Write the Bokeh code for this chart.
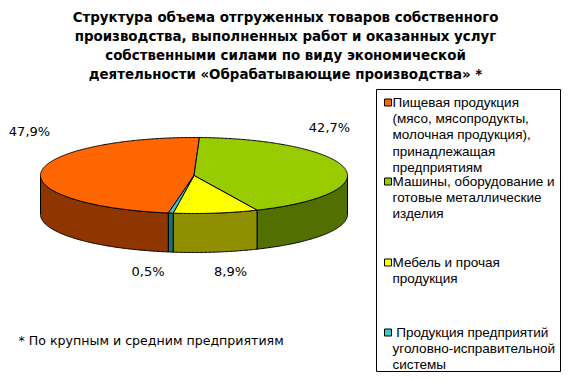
import numpy as np
from bokeh.plotting import figure
from bokeh.models import Range1d, ColumnDataSource
from bokeh.core.properties import value
from bokeh.embed import file_html
from bokeh.resources import INLINE

# ---------------- data ----------------
title_lines = [
    "Структура объема отгруженных товаров собственного",
    "производства, выполненных работ и оказанных услуг",
    "собственными силами по виду экономической",
    "деятельности «Обрабатывающие производства» *",
]
categories = [
    ["Пищевая продукция", "(мясо, мясопродукты,", "молочная продукция),", "принадлежащая", "предприятиям"],
    ["Машины, оборудование и", "готовые металлические", "изделия"],
    ["Мебель и прочая", "продукция"],
    ["\u00a0Продукция предприятий", "уголовно-исправительной", "системы"],
]
shares = [47.9, 42.7, 8.9, 0.5]
top_colors = ["#FF6600", "#99CC00", "#FFFF00", "#33CCCC"]
side_colors = ["#8F3500", "#527000", "#8F8F00", "#1C7373"]
footnote = "* По крупным и средним предприятиям"

# ---------------- layout ----------------
W, H = 561, 372
CX, CY, RX, RY, DEPTH = 193.5, 175.0, 153.5, 38.0, 39.0
START = 189.6
FONT = "DejaVu Sans"
LFONT = "Liberation Sans"

p = figure(width=W, height=H, x_range=Range1d(0, W), y_range=Range1d(H, 0),
           output_backend="svg", toolbar_location=None, min_border=0)
p.axis.visible = False
p.grid.visible = False
p.outline_line_color = None
p.background_fill_color = "white"


def arc(a0, a1):
    n = max(2, int(abs(a1 - a0) * 2) + 2)
    t = np.radians(np.linspace(a0, a1, n))
    return CX + RX * np.sin(t), CY - RY * np.cos(t)


total = sum(shares)
bounds = []
acc = START
for v in shares:
    a1 = acc + 360.0 * v / total
    bounds.append((acc, a1))
    acc = a1

# side walls (front half: 90..270 deg clockwise from 12 o'clock)
wx, wy, wc = [], [], []
for (a0, a1), col in zip(bounds, side_colors):
    for k in range(-1, 3):
        lo, hi = max(a0, 90 + 360 * k), min(a1, 270 + 360 * k)
        if hi > lo:
            xs, ys = arc(lo, hi)
            wx.append(list(xs) + list(xs[::-1]))
            wy.append(list(ys) + list(ys[::-1] + DEPTH))
            wc.append(col)
p.patches(xs="xs", ys="ys", fill_color="c", line_color="black", line_width=1,
          source=ColumnDataSource(dict(xs=wx, ys=wy, c=wc)))

# top faces
tx, ty = [], []
for (a0, a1) in bounds:
    xs, ys = arc(a0, a1)
    tx.append([CX] + list(xs))
    ty.append([CY] + list(ys))
p.patches(xs="xs", ys="ys", fill_color="c", line_color="black", line_width=1,
          source=ColumnDataSource(dict(xs=tx, ys=ty, c=top_colors)))

# percentage labels
label_text = [f"{v:.1f}%".replace(".", ",") for v in shares]
label_x = [29, 329, 230, 147.5]
label_y = [131, 127, 271, 271]
p.text(x=label_x, y=label_y, text=label_text, text_font=value(FONT), text_font_size="13px",
       text_align="center", text_baseline="middle", text_color="black")

# title
p.text(x=[285] * 4, y=[17, 36, 55, 74], text=title_lines, text_font=value(FONT),
       text_font_size="13.4px", text_font_style="bold", text_align="center",
       text_baseline="middle", text_color="black")

# footnote
p.text(x=[18], y=[340], text=[footnote], text_font=value(FONT), text_font_size="12.6px",
       text_align="left", text_baseline="middle", text_color="black")

# legend
p.quad(left=[376], right=[560], top=[89], bottom=[371], fill_color="white",
       line_color="black", line_width=1)
entry_y = [102, 181, 262, 332]
LINE = 16.2
lx, ly, lt = [], [], []
for y0, lines in zip(entry_y, categories):
    for j, s in enumerate(lines):
        lx.append(392)
        ly.append(y0 + j * (LINE if y0 < 330 else 16.0))
        lt.append(s)
p.text(x=lx, y=ly, text=lt, text_font=value(LFONT), text_font_size="13.5px",
       text_align="left", text_baseline="middle", text_color="black")
p.rect(x=[387.5] * 4, y=entry_y, width=7, height=7, fill_color=top_colors,
       line_color="black", line_width=1)

open("out.html", "w").write(file_html(p, INLINE))
